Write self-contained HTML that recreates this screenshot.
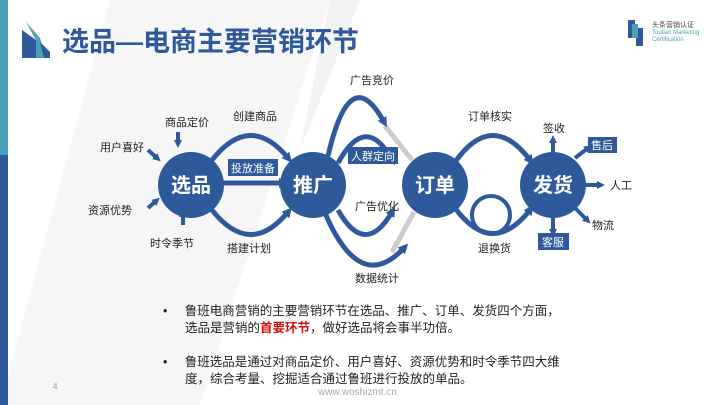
<!DOCTYPE html>
<html><head><meta charset="utf-8"><style>
body{margin:0;width:720px;height:405px;overflow:hidden;background:#fff;font-family:"Liberation Sans","Noto Sans CJK SC",sans-serif;position:relative}
.t{position:absolute;font-size:11px;color:#222;white-space:nowrap}
</style></head><body>
<svg width="720" height="405" style="position:absolute;left:0;top:0">
<defs>
<marker id="a" markerWidth="10" markerHeight="10" refX="4" refY="5" orient="auto" markerUnits="userSpaceOnUse"><path d="M0,0L10,5L0,10z" fill="#2e5a9c"/></marker>
<marker id="b" markerWidth="8" markerHeight="8" refX="3" refY="4" orient="auto" markerUnits="userSpaceOnUse"><path d="M0,0L8,4L0,8z" fill="#2e5a9c"/></marker>
</defs>
<polygon points="110,0 330,0 200,405 0,405" fill="#f6f6f7"/>
<polygon points="330,0 360,0 300,150" fill="#f3f3f4"/>
<rect x="0" y="0" width="8" height="155" fill="#4aa3b5"/>
<rect x="0" y="155" width="8" height="250" fill="#2e5a9c"/>
<polygon points="22,30 36,40 36,58 22,58" fill="#2e5a9c"/>
<polygon points="26,22 40,38 46,58 36,58 36,40" fill="#4aa3b5"/>
<polygon points="40,42 50,52 50,58 44,58" fill="#2e5a9c"/>
<g fill="#2e5a9c"><rect x="628" y="20" width="7" height="18"/><rect x="636" y="28" width="7" height="18"/></g>
<rect x="632" y="24" width="6" height="14" fill="#4aa3b5"/>
<g stroke="#cccccc" stroke-width="5" fill="none">
<line x1="385" y1="126" x2="412" y2="160"/><line x1="392" y1="252" x2="414" y2="212"/>
<line x1="290" y1="160" x2="296" y2="165"/><line x1="530" y1="162" x2="535" y2="168"/><line x1="528" y1="210" x2="534" y2="204"/>
</g>
<g stroke="#2e5a9c" stroke-width="5" fill="none" marker-end="url(#a)">
<path d="M212,160 Q250,112 288,158"/>
<path d="M212,210 Q250,258 288,212"/>
<path d="M328,156 Q350,60 384,122"/>
<path d="M338,163 Q366,112 392,160"/>
<path d="M338,210 Q365,258 392,212"/>
<path d="M325,213 Q360,295 404,248"/>
<path d="M455,162 Q492,110 530,160"/>
<path d="M455,208 Q492,258 530,210"/>
<line x1="217" y1="183" x2="283" y2="183"/>
</g>
<g stroke="#2e5a9c" stroke-width="4" fill="none" marker-end="url(#b)">
<line x1="553" y1="152" x2="553" y2="140"/>
<line x1="575" y1="158" x2="588" y2="148"/>
<line x1="586" y1="185" x2="600" y2="185"/>
<line x1="575" y1="208" x2="587" y2="220"/>
<line x1="553" y1="218" x2="553" y2="232"/>
<line x1="178" y1="132" x2="178" y2="143"/>
<line x1="148" y1="150" x2="157" y2="158"/>
<line x1="148" y1="208" x2="156" y2="201"/>
<line x1="183" y1="225" x2="183" y2="214"/>
</g>
<circle cx="491" cy="215" r="19" stroke="#2e5a9c" stroke-width="4" fill="none"/>
<g fill="#2e5a9c"><circle cx="191" cy="185" r="33"/><circle cx="313" cy="185" r="33"/><circle cx="435" cy="185" r="33"/><circle cx="553" cy="185" r="33"/>
<rect x="228" y="159" width="50" height="17"/><rect x="348" y="147" width="50" height="17"/><rect x="588" y="137" width="29" height="16"/><rect x="538" y="233" width="31" height="17"/></g>
<g fill="#fff" font-weight="bold" font-size="20" text-anchor="middle" font-family="Liberation Sans,Noto Sans CJK SC,sans-serif"><text x="191" y="192">选品</text><text x="313" y="192">推广</text><text x="435" y="192">订单</text><text x="553" y="192">发货</text></g>
<g fill="#fff" font-size="11" text-anchor="middle" font-family="Liberation Sans,Noto Sans CJK SC,sans-serif"><text x="253" y="172">投放准备</text><text x="373" y="160">人群定向</text><text x="602" y="149">售后</text><text x="553" y="246">客服</text></g>
</svg>
<div style="position:absolute;left:62px;top:20px;font-size:27px;font-weight:bold;color:#2e5a9c">选品—电商主要营销环节</div>
<div class="t" style="left:652px;top:20px;font-size:7px;color:#444">头条营销认证</div>
<div class="t" style="left:652px;top:30px;font-size:6px;color:#4aa3b5;line-height:7px">Toutiao Marketing<br>Certification</div>
<div class="t" style="left:165px;top:114px">商品定价</div>
<div class="t" style="left:100px;top:139px">用户喜好</div>
<div class="t" style="left:88px;top:202px">资源优势</div>
<div class="t" style="left:150px;top:235px">时令季节</div>
<div class="t" style="left:233px;top:108px">创建商品</div>
<div class="t" style="left:227px;top:240px">搭建计划</div>
<div class="t" style="left:350px;top:72px">广告竞价</div>
<div class="t" style="left:355px;top:198px">广告优化</div>
<div class="t" style="left:355px;top:270px">数据统计</div>
<div class="t" style="left:468px;top:108px">订单核实</div>
<div class="t" style="left:543px;top:120px">签收</div>
<div class="t" style="left:610px;top:177px">人工</div>
<div class="t" style="left:592px;top:217px">物流</div>
<div class="t" style="left:478px;top:240px">退换货</div>
<div style="position:absolute;left:163px;top:303px;font-size:12.5px;line-height:17px;color:#222">
<div style="padding-left:22px;text-indent:-22px">•&nbsp;&nbsp;&nbsp;&nbsp;&nbsp;鲁班电商营销的主要营销环节在选品、推广、订单、发货四个方面，<br>选品是营销的<b style="color:#d01010">首要环节</b>，做好选品将会事半功倍。</div>
<div style="padding-left:22px;text-indent:-22px;margin-top:17px">•&nbsp;&nbsp;&nbsp;&nbsp;&nbsp;鲁班选品是通过对商品定价、用户喜好、资源优势和时令季节四大维<br>度，综合考量、挖掘适合通过鲁班进行投放的单品。</div>
</div>
<div class="t" style="left:53px;top:382px;font-size:8px;color:#999">4</div>
<div class="t" style="left:318px;top:387px;font-size:10px;color:#aaa">www.woshizmt.cn</div>
</body></html>
